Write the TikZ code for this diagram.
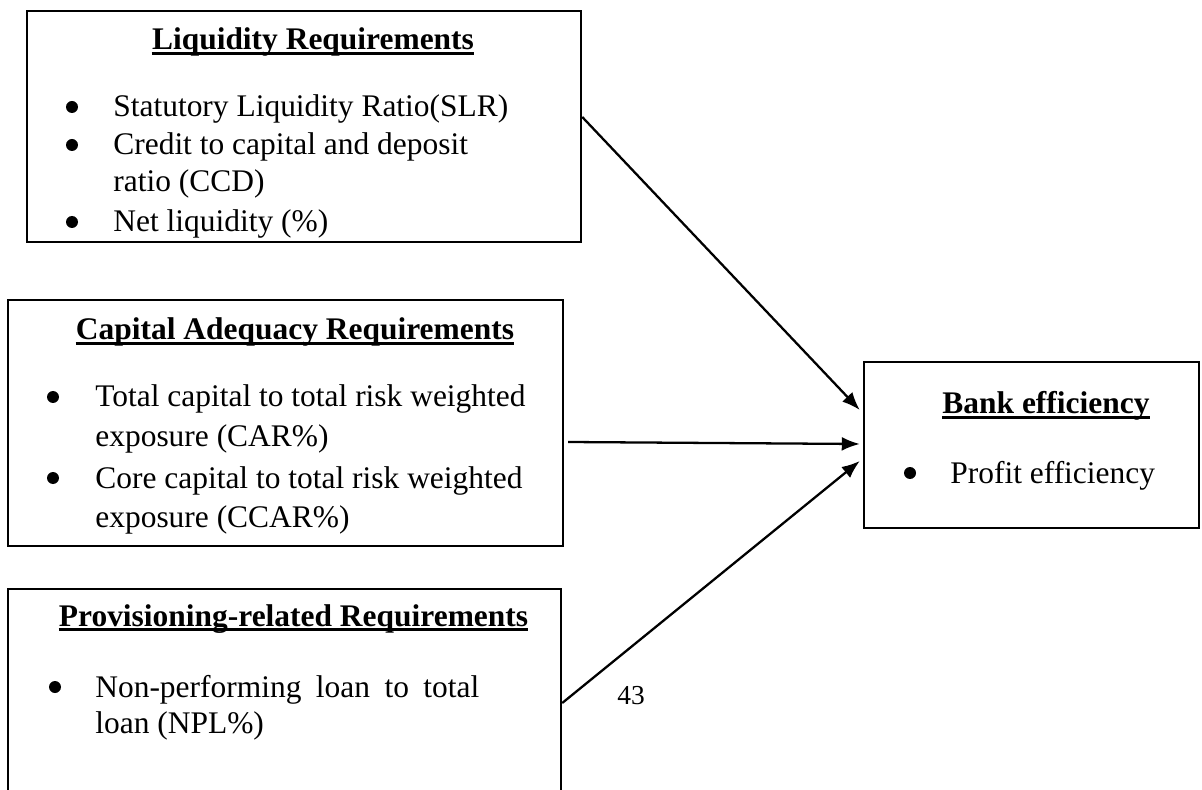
\documentclass[tikz,border=0pt]{standalone}
\usepackage{fontspec}
\setmainfont{Liberation Serif}
\usetikzlibrary{arrows.meta}

\newcommand{\txtsize}{\fontsize{17.9}{21.5}\selectfont}
\tikzset{
  box/.style={draw,line width=1.4pt,inner sep=0pt},
  ttl/.style={anchor=base,inner sep=0pt,font=\txtsize\bfseries},
  item/.style={anchor=base west,inner sep=0pt,font=\txtsize},
  uline/.style={line width=1.4pt},
  arr/.style={line width=1.3pt,-{Latex[length=0.36cm,width=0.28cm]}},
}

\begin{document}
\begin{tikzpicture}
                        \clip (0,0) rectangle (24.04,15.78);
                        % boxes
                        \node[box,minimum width=11.08cm,minimum height=4.62cm] (liq) at (6.08,13.25) {};
                        \node[box,minimum width=11.10cm,minimum height=4.92cm] (cap) at (5.71,7.32) {};
                        \node[box,minimum width=11.06cm,minimum height=4.60cm] (prov) at (5.69,1.70) {};
                        \node[box,minimum width=6.70cm,minimum height=3.32cm] (bank) at (20.63,6.88) {};
                        % titles
                        \node[ttl] (t1) at (6.26,14.78) {Liquidity Requirements};
                        \node[ttl] (t2) at (5.90,8.98) {Capital Adequacy Requirements};
                        \node[ttl] (t3) at (5.87,3.26) {Provisioning-related Requirements};
                        \node[ttl] (t4) at (20.92,7.50) {Bank efficiency};
                        \foreach \t in {t1,t2,t3,t4}
                          \draw[uline] ([yshift=-0.07cm]\t.base west) -- ([yshift=-0.07cm]\t.base east);
                        % liquidity items
                        \fill (1.44,13.64) circle (0.12); \fill (1.44,12.88) circle (0.12); \fill (1.44,11.34) circle (0.12);
                        \node[item] (l1) at (2.26,13.44) {Statutory Liquidity Ratio(SLR)};
                        \node[item] (l2) at (2.26,12.68) {Credit to capital and deposit};
                        \node[item] (l3) at (2.26,11.94) {ratio (CCD)};
                        \node[item] (l4) at (2.26,11.14) {Net liquidity (\%)};
                        % capital items
                        \fill (1.06,7.84) circle (0.12); \fill (1.06,6.22) circle (0.12);
                        \node[item] (c1) at (1.90,7.64) {Total capital to total risk weighted};
                        \node[item] (c2) at (1.90,6.86) {exposure (CAR\%)};
                        \node[item] (c3) at (1.90,6.02) {Core capital to total risk weighted};
                        \node[item] (c4) at (1.90,5.24) {exposure (CCAR\%)};
                        % provisioning items
                        \fill (1.10,2.04) circle (0.12);
                        \node[item] (p1) at (1.90,1.84) {\makebox[7.68cm][s]{Non-performing loan to total}};
                        \node[item] (p2) at (1.90,1.12) {loan (NPL\%)};
                        % efficiency item
                        \fill (18.20,6.32) circle (0.12);
                        \node[item] (b1) at (19.00,6.12) {Profit efficiency};
                        % page number
                        \node[anchor=base,inner sep=0pt,font=\fontsize{15.6}{18}\selectfont] (pg) at (12.62,1.70) {43};
                        % arrows
                        \draw[arr] ([yshift=0.19cm]liq.east) -- ([xshift=-0.06cm,yshift=0.70cm]bank.west);
                        \draw[arr] ([xshift=0.08cm,yshift=-0.38cm]cap.east) -- ([xshift=-0.06cm,yshift=0.02cm]bank.west);
                        \draw[arr] ([yshift=0.02cm]prov.east) -- ([xshift=-0.06cm,yshift=-0.32cm]bank.west);
                    \end{tikzpicture}
\end{document}
